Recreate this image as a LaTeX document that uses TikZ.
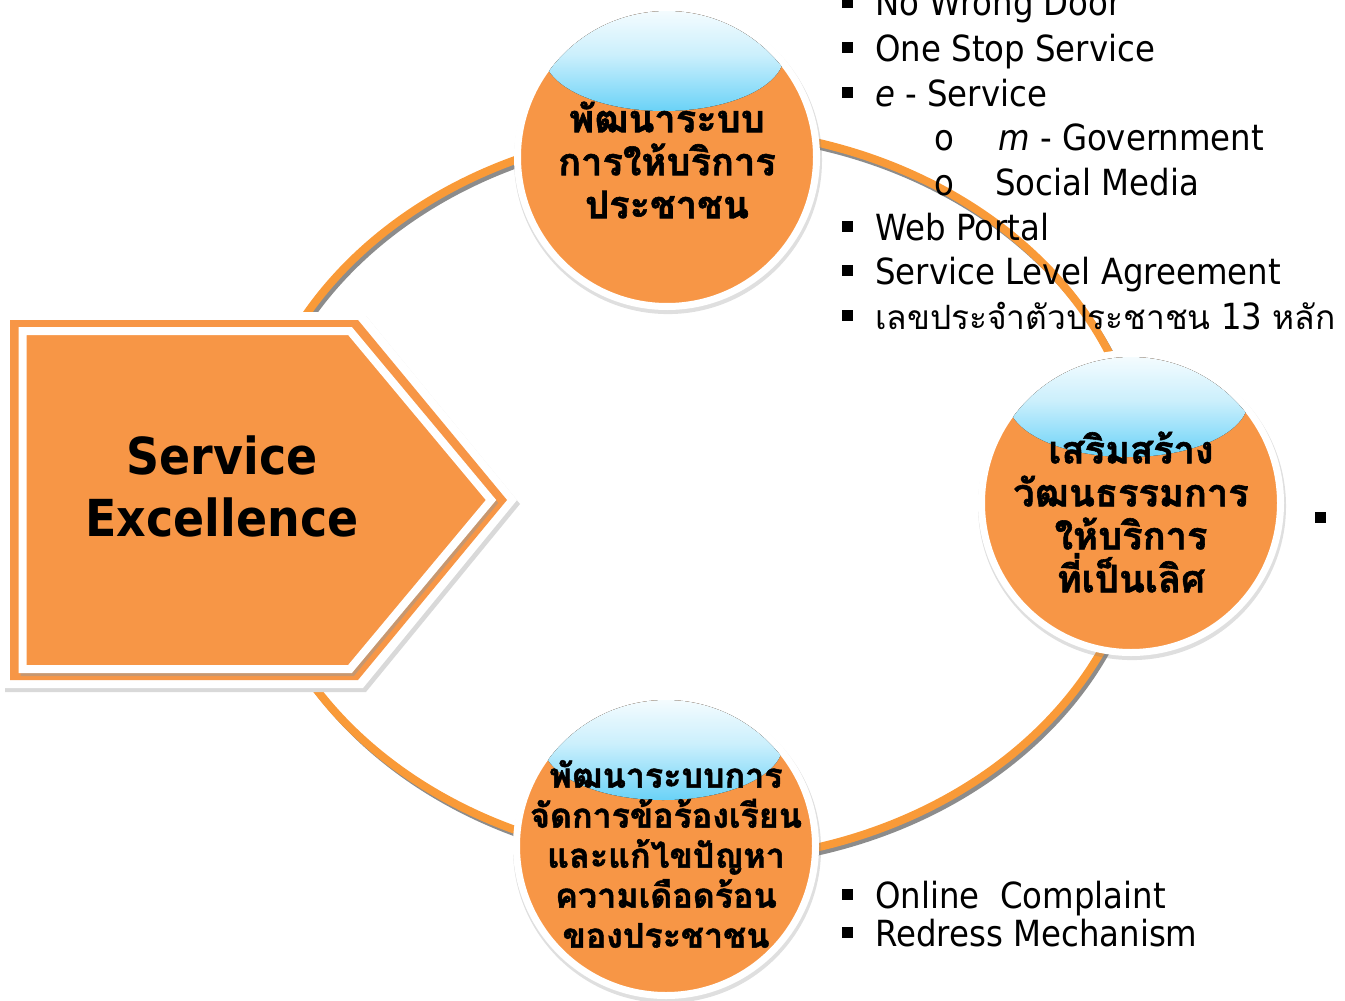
\documentclass[tikz,border=0pt]{standalone}
\usepackage{fontspec}
\setmainfont[FakeStretch=0.9]{DejaVu Sans}
\newfontfamily\thaifont[Script=Thai,BoldFeatures={FakeBold=1.5}]{Loma}
\usetikzlibrary{shadows}
\definecolor{seorange}{HTML}{F79646}
\definecolor{ringorange}{HTML}{F99A38}
\definecolor{ringgray}{HTML}{8C8C8C}
\definecolor{glass}{HTML}{6AD2F7}
\tikzset{
  bubble/.style={circle,fill=seorange,draw=white,line width=7pt,minimum size=299pt,inner sep=0pt,
    drop shadow={shadow scale=1.03,shadow xshift=1pt,shadow yshift=-3pt,opacity=.25}},
  shine/.style={top color=white,bottom color=glass,middle color=glass!35!white},
  bubtext/.style={align=center,inner sep=0pt,font=\thaifont\bfseries\fontsize{38}{43}\selectfont},
  item/.style={anchor=base west,inner sep=0pt,font=\fontsize{36}{44}\selectfont},
  sq/.style={fill=black,minimum size=11pt,inner sep=0pt},
}
\begin{document}
\begin{tikzpicture}[x=1pt,y=-1pt]
\useasboundingbox (0,0) rectangle (1345,1001);
% ring
\draw[ringgray,line width=7pt] (699,499) ellipse [x radius=448,y radius=366];
\draw[ringorange,line width=8pt] (696,495) ellipse [x radius=448,y radius=366];
% arrow block
\fill[black!15,shift={(3,4)}] (2,312) -- (363,312) -- (517,500) -- (363,688) -- (2,688) -- cycle;
\fill[white] (2,312) -- (363,312) -- (517,500) -- (363,688) -- (2,688) -- cycle;
\fill[seorange] (10,320) -- (358,320) -- (507,500) -- (358,680) -- (10,680) -- cycle;
\draw[black!40,opacity=.5,line width=8pt,shift={(2,3)}] (22.5,331) -- (350,331) -- (491,500) -- (350,669) -- (22.5,669) -- cycle;
\draw[white,line width=8pt,fill=seorange] (22.5,331) -- (350,331) -- (491,500) -- (350,669) -- (22.5,669) -- cycle;
\node[font=\bfseries\fontsize{51}{62}\selectfont,align=center,inner sep=0pt] (se) at (222,486) {Service\\Excellence};
% circles
\node[bubble] (top) at (667,157) {};
\node[bubble] (right) at (1131,503) {};
\node[bubble] (bottom) at (666,846) {};
\foreach \c in {top,right,bottom} {
  \begin{scope}
    \clip (\c.center) circle [radius=146];
    \fill[shine] ([xshift=-3pt,yshift=102pt]\c.center) ellipse [x radius=120pt,y radius=56pt];
  \end{scope}
}
\node[bubtext] (toptxt) at (667,160) {พัฒนาระบบ\\การให้บริการ\\ประชาชน};
\node[bubtext] (righttxt) at (1131,512) {เสริมสร้าง\\วัฒนธรรมการ\\ให้บริการ\\ที่เป็นเลิศ};
\node[bubtext,font=\thaifont\bfseries\fontsize{34}{40}\selectfont] (bottomtxt) at (666,854) {พัฒนาระบบการ\\จัดการข้อร้องเรียน\\และแก้ไขปัญหา\\ความเดือดร้อน\\ของประชาชน};
% lists
\node[item] (nwd) at (875,16) {No Wrong Door};
\node[item] (oss) at (875,61) {One Stop Service};
\node[item] (es) at (875,106) {\textit{e} - Service};
\node[item] (mg) at (998,150) {\textit{m} - Government};
\node[item] (sm) at (995,195) {Social Media};
\node[item] (wp) at (875,240) {Web Portal};
\node[item] (sla) at (875,284) {Service Level Agreement};
\node[item] (pid) at (875,329) {{\thaifont\fontsize{33.5}{44}\selectfont เลขประจำตัวประชาชน} 13 {\thaifont\fontsize{33.5}{44}\selectfont หลัก}};
\node[item] (oc) at (875,908) {Online\ \ Complaint};
\node[item] (rm) at (875,946) {Redress Mechanism};
\node[item,anchor=base] (o1) at (944,150) {o};
\node[item,anchor=base] (o2) at (944,195) {o};
\foreach \y in {16,61,106,240,284,329,908,946}
  \node[sq] (b\y) at (847,\y-14) {};
\node[sq] (br) at (1320,517) {};
\end{tikzpicture}
\end{document}
